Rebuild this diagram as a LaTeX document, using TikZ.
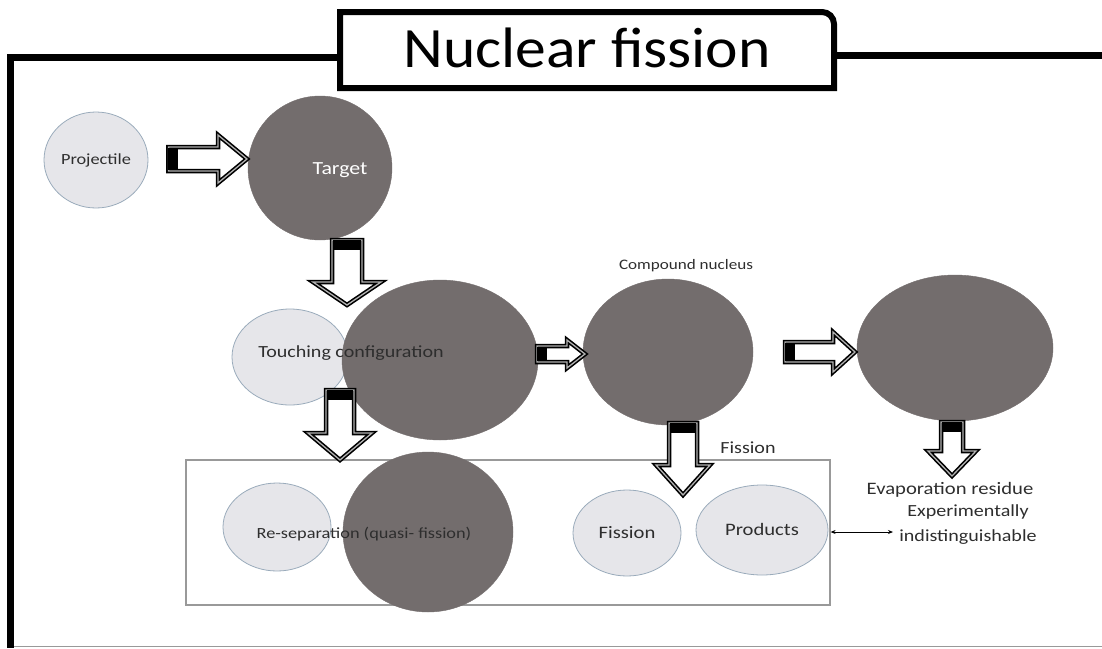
\documentclass[tikz,border=0pt]{standalone}
\usepackage{fontspec}
\setmainfont{Carlito}[FakeStretch=1.18]
\newfontfamily\titlefont{Carlito}[FakeStretch=1.08]
\usetikzlibrary{calc,shapes.geometric,arrows.meta}
\definecolor{darkn}{HTML}{736D6D}
\definecolor{lightn}{HTML}{E6E6EA}
\definecolor{edgen}{HTML}{9AABBB}
\definecolor{txt}{HTML}{2E2E2E}
\tikzset{
  lightnode/.style={ellipse, fill=lightn, draw=edgen, line width=0.8pt, inner sep=0pt},
  darknode/.style={ellipse, fill=darkn, draw=darkn, inner sep=0pt},
  lbl/.style={text=txt, inner sep=0pt, align=center},
  barrow/.style={draw=black, line width=1.6pt, double=gray!60, double distance=1.3pt, fill=white},
}
\newcommand{\arrR}[5]{%
  \path[barrow] let \p1=(#1), \p2=(#2) in
    (\x1,\y1+#3) -- (\x2-#5,\y1+#3) -- (\x2-#5,\y1+#4) -- (\x2,\y1) --
    (\x2-#5,\y1-#4) -- (\x2-#5,\y1-#3) -- (\x1,\y1-#3) -- cycle;
  \fill let \p1=(#1) in (\x1,\y1-#3+1pt) rectangle (\x1+10pt,\y1+#3-1pt);}
\newcommand{\arrD}[5]{%
  \path[barrow] let \p1=(#1), \p2=(#2) in
    (\x1-#3,\y1) -- (\x1-#3,\y2+#5) -- (\x1-#4,\y2+#5) -- (\x1,\y2) --
    (\x1+#4,\y2+#5) -- (\x1+#3,\y2+#5) -- (\x1+#3,\y1) -- cycle;
  \fill let \p1=(#1) in (\x1-#3+1pt,\y1) rectangle (\x1+#3-1pt,\y1-10pt);}
\begin{document}
\begin{tikzpicture}[x=1pt,y=-1pt]
\useasboundingbox (0,0) rectangle (1102,648);
% frame
\fill[black] (7,55) rectangle (14,648);
\draw[gray!80, line width=1.2pt] (14,646.5) -- (1102,646.5);
\fill[black] (7,54) rectangle (340,61);
\fill[black] (834,52) rectangle (1102,59);
\draw[black, fill=white, line width=6pt, line join=miter] (340,88) -- (340,12) -- (822,12)
   arc[start angle=-90, end angle=0, radius=12] -- (834,88) -- cycle;
\node[lbl, text=black, font=\titlefont\fontsize{57}{62}\selectfont] (title) at (587,48) {Nuclear fission};
% rectangle group
\node[draw=gray!80, line width=1.2pt, minimum width=644pt, minimum height=145pt, inner sep=0pt] (grp) at (508,532.5) {};
% nodes
\node[lightnode, minimum width=104pt, minimum height=96pt] (proj) at (96,160) {};
\node[darknode, minimum width=144pt, minimum height=144pt] (tgt) at (320,168) {};
\node[lightnode, minimum width=116pt, minimum height=96pt] (touchL) at (290,357) {};
\node[darknode, minimum width=196pt, minimum height=160pt] (touchD) at (440,360) {};
\node[darknode, minimum width=170pt, minimum height=146pt] (comp) at (668,352) {};
\node[darknode, minimum width=196pt, minimum height=146pt] (evap) at (955,348) {};
\node[lightnode, minimum width=108pt, minimum height=88pt] (resepL) at (277,527) {};
\node[darknode, minimum width=170pt, minimum height=160pt] (resepD) at (428,532) {};
\node[lightnode, minimum width=108pt, minimum height=86pt] (fissE) at (627,533) {};
\node[lightnode, minimum width=132pt, minimum height=90pt] (prod) at (762,530) {};
% labels
\node[lbl, font=\fontsize{15.5}{17}\selectfont] at (proj.center) {Projectile};
\node[lbl, text=white, font=\fontsize{18.5}{20}\selectfont] at (340,170) {Target};
\node[lbl, font=\fontsize{17}{19}\selectfont] (touchtext) at (351,353) {Touching configuration};
\node[lbl, font=\fontsize{14.5}{17}\selectfont] (comptext) at (686,266) {Compound nucleus};
\node[lbl, font=\fontsize{17}{19}\selectfont] (fisstext) at (748,448) {Fission};
\node[lbl, font=\fontsize{17.5}{19}\selectfont] (evaptext) at (950,490) {Evaporation residue};
\node[lbl, font=\fontsize{15.5}{18}\selectfont] (reseptext) at (364,534) {Re-separation (quasi- fission)};
\node[lbl, font=\fontsize{17.5}{19}\selectfont] at (fissE.center) {Fission};
\node[lbl, font=\fontsize{17.5}{19}\selectfont] at (762,529) {Products};
\node[lbl, font=\fontsize{17}{25}\selectfont] (exptext) at (968,525) {Experimentally\\indistinguishable};
% block arrows
\coordinate (a1s) at ($(proj.east)+(20,-1)$);
\coordinate (a1e) at (247,159);
\arrR{a1s}{a1e}{12pt}{24pt}{29pt}
\coordinate (a2s) at (347,240);
\coordinate (a2e) at (347,305);
\arrD{a2s}{a2e}{15pt}{34pt}{23pt}
\coordinate (a3s) at (340,390);
\coordinate (a3e) at (340,460);
\arrD{a3s}{a3e}{14pt}{32pt}{27pt}
\coordinate (a4s) at (537,354);
\coordinate (a4e) at (585,354);
\arrR{a4s}{a4e}{8pt}{14pt}{18pt}
\coordinate (a5s) at (785,352);
\coordinate (a5e) at (855,352);
\arrR{a5s}{a5e}{10pt}{20pt}{22pt}
\coordinate (a6s) at (683,423);
\coordinate (a6e) at (683,495);
\arrD{a6s}{a6e}{14pt}{27pt}{30pt}
\coordinate (a7s) at (952,422);
\coordinate (a7e) at (952,476);
\arrD{a7s}{a7e}{11pt}{24pt}{25pt}
% double arrow
\coordinate (dae) at (893,532);
\draw[black, line width=0.8pt, {Stealth[length=5pt,width=4pt]}-{Stealth[length=5pt,width=4pt]}] (grp.east |- dae) -- (dae);
\end{tikzpicture}
\end{document}
